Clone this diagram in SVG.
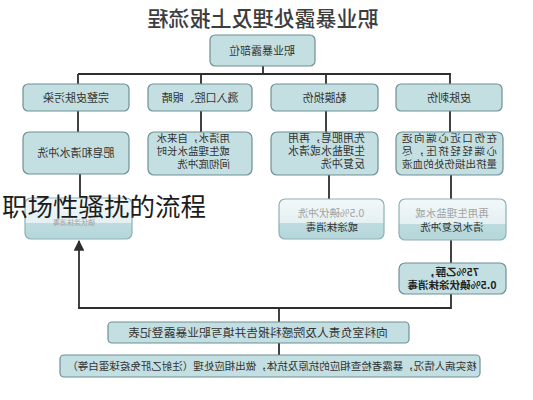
<svg xmlns="http://www.w3.org/2000/svg" width="533" height="400" viewBox="0 0 533 400">
<defs>
<style>
.bx{fill:#c3dfe2;stroke:#6f9094;stroke-width:1.2}
.fd{fill:url(#fade);stroke:#8fb0b4;stroke-width:1.2}
.ln{stroke:#2e2e2e;stroke-width:1.8;fill:none}
.t{font-family:"Noto Sans CJK SC","Noto Sans",sans-serif;font-size:11px;fill:#333;text-anchor:middle}
.s{font-size:10.5px}
.g{fill:#a3a3a3}
.b{font-weight:bold;fill:#222}
</style>
<linearGradient id="fade" x1="0" y1="0" x2="0" y2="1">
<stop offset="0" stop-color="#f2f8f9"/>
<stop offset="0.6" stop-color="#e4f0f2"/>
<stop offset="0.6" stop-color="#bddcdf"/>
<stop offset="1" stop-color="#b5d7da"/>
</linearGradient>
<marker id="arr" viewBox="0 0 10 10" refX="9" refY="5" markerWidth="6" markerHeight="6" orient="auto">
<path d="M0,0 L10,5 L0,10 z" fill="#2e2e2e"/>
</marker>
</defs>
<rect width="533" height="400" fill="#ffffff"/>

<g id="connectors">
<path class="ln" d="M263,66 V74 M78,74 H451 M78,74 V84 M201,74 V84 M326,74 V84 M450,74 V84"/>
<path class="ln" d="M78,111 V132 M201,111 V132 M326,111 V132 M450,111 V132"/>
<path class="ln" d="M80,174 V198 M329,175 V199 M451,175 V199"/>
<path class="ln" d="M451,240 V263 M451,294 V308 H78"/>
<path class="ln" d="M79,308 V241" marker-end="url(#arr)"/>
<path class="ln" d="M279,308 V322 M279,343 V355"/>
</g>

<g id="n-top"><rect class="bx" x="210" y="35" width="105" height="31" rx="5"/></g>
<g id="n-r1-1"><rect class="bx" x="396" y="84" width="106" height="27" rx="5"/></g>
<g id="n-r1-2"><rect class="bx" x="271" y="84" width="107" height="27" rx="5"/></g>
<g id="n-r1-3"><rect class="bx" x="148" y="84" width="104" height="27" rx="5"/></g>
<g id="n-r1-4"><rect class="bx" x="23" y="84" width="106" height="27" rx="5"/></g>
<g id="n-r2-1"><rect class="bx" x="396" y="132" width="107" height="43" rx="6"/></g>
<g id="n-r2-2"><rect class="bx" x="271" y="132" width="107" height="43" rx="6"/></g>
<g id="n-r2-3"><rect class="bx" x="148" y="132" width="104" height="43" rx="6"/></g>
<g id="n-r2-4"><rect class="bx" x="23" y="132" width="106" height="42" rx="6"/></g>
<g id="n-r3-1"><rect class="fd" x="399" y="199" width="107" height="41" rx="6"/></g>
<g id="n-r3-2"><rect class="fd" x="279" y="199" width="105" height="40" rx="6"/></g>
<g id="n-r3-4"><rect class="fd" x="25" y="198" width="107" height="41" rx="6"/></g>
<g id="n-r4-1"><rect class="bx" x="399" y="263" width="107" height="31" rx="6"/></g>
<g id="n-report"><rect class="bx" x="108" y="322" width="301" height="21" rx="4"/></g>
<g id="n-check"><rect class="bx" x="60" y="355" width="420" height="22" rx="4"/></g>

<g id="texts" transform="scale(-1,1)">
<text class="t" x="-263" y="26" style="font-size:21px;fill:#3d3d3d;font-weight:500">职业暴露处理及上报流程</text>
<text class="t" x="-262" y="55">职业暴露部位</text>
<text class="t" x="-449" y="101.5">皮肤刺伤</text>
<text class="t" x="-324.5" y="101.5">黏膜损伤</text>
<text class="t" x="-200" y="101.5">溅入口腔、眼睛</text>
<text class="t" x="-76" y="101.5">完整皮肤污染</text>

<text class="t s" x="-449.5" y="142" textLength="95">在伤口近心端向远</text>
<text class="t s" x="-449.5" y="155" textLength="95">心端轻轻挤压，尽</text>
<text class="t s" x="-449.5" y="168" textLength="95">量挤出损伤处的血液</text>

<text class="t" x="-365" y="142" style="text-anchor:start">先用肥皂，再用</text>
<text class="t" x="-365" y="155" style="text-anchor:start">生理盐水或清水</text>
<text class="t" x="-365" y="168" style="text-anchor:start">反复冲洗</text>

<text class="t s" x="-230" y="142" style="text-anchor:start">用清水，自来水</text>
<text class="t s" x="-230" y="155" style="text-anchor:start">或生理盐水长时</text>
<text class="t s" x="-230" y="168" style="text-anchor:start">间彻底冲洗</text>

<text class="t" x="-76" y="157">肥皂和清水冲洗</text>

<text class="t s g" x="-452" y="217">再用生理盐水或</text>
<text class="t s" x="-452" y="231">清水反复冲洗</text>
<text class="t s g" x="-331" y="217">0.5%碘伏冲洗</text>
<text class="t s" x="-332" y="231">或涂抹消毒</text>
<text class="t g" x="-74" y="225" style="font-size:7px">碘伏涂抹消毒</text>

<text class="t s b" x="-452" y="276">75%乙醇，</text>
<text class="t s b" x="-452" y="289">0.5%碘伏涂抹消毒</text>

<text class="t" x="-258" y="336.5" style="font-size:11.8px">向科室负责人及院感科报告并填写职业暴露登记表</text>
<text class="t s" x="-272" y="370">核实病人情况，暴露者检查相应的抗原及抗体，做出相应处理（注射乙肝免疫球蛋白等）</text>
</g>

<text x="2" y="216" style="font-family:'Noto Sans CJK SC',sans-serif;font-size:25.5px;fill:#1c1c1c">职场性骚扰的流程</text>
</svg>
